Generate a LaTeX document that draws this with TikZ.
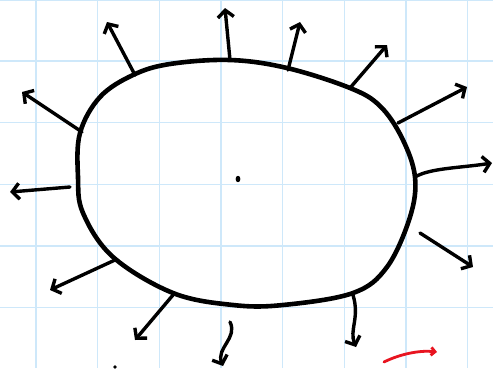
\documentclass[tikz,border=0pt]{standalone}
\usepackage{xcolor}
\usetikzlibrary{arrows.meta,calc}
\definecolor{gridblue}{RGB}{206,232,250}
\definecolor{inkred}{RGB}{232,20,32}
\tikzset{
    gridline/.style={draw=gridblue, line width=1.2pt},
    outline/.style={draw=black, line width=4.6pt, line join=round},
    ray/.style={-{Straight Barb[length=7pt,width=16pt]}, line width=3.4pt, line cap=round, draw=black},
    redmark/.style={-{Straight Barb[length=4pt,width=8pt]}, line width=2.8pt, line cap=round, draw=inkred}
}
\begin{document}
\begin{tikzpicture}[x=1pt,y=-1pt]
\useasboundingbox (0,0) rectangle (493,368);
\fill[white] (0,0) rectangle (493,368);
% squared paper
\foreach \gx in {36,97.7,159.3,221,282.7,344.3,406,467.7}
    \draw[gridline] (\gx,0) -- (\gx,368);
\foreach \gy in {0.5,61,122.7,184.3,246,307.7}
    \draw[gridline] (0,\gy) -- (493,\gy);
% body
\draw[outline] plot[smooth cycle, tension=0.6] coordinates {
    (230,60) (170,64) (133,75) (100,97) (80,133) (78,177) (83,213)
    (113,257) (173,293) (233,305) (283,305) (353,293) (387,267)
    (410,217) (415,177) (402,138) (380,106) (350,88) (287,68)};
\fill (238,179) ellipse (2.4pt and 3.2pt);
\fill (115,367) circle (1.8pt);
% start points on the body and free ends
\coordinate (s1) at (82,132);   \coordinate (e1) at (22,92);
\coordinate (s2) at (70,187);   \coordinate (e2) at (10,192);
\coordinate (s3) at (115,260);  \coordinate (e3) at (50,290);
\coordinate (s4) at (173,295);  \coordinate (e4) at (135,340);
\coordinate (s5) at (230,322);  \coordinate (e5) at (223,366);
\coordinate (s6) at (353,295);  \coordinate (e6) at (356,347);
\coordinate (s7) at (420,233);  \coordinate (e7) at (473,267);
\coordinate (s8) at (415,177);  \coordinate (e8) at (492,163);
\coordinate (s9) at (398,123);  \coordinate (e9) at (467,87);
\coordinate (s10) at (350,88);  \coordinate (e10) at (387,45);
\coordinate (s11) at (288,70);  \coordinate (e11) at (300,22);
\coordinate (s12) at (230,60);  \coordinate (e12) at (225,8);
\coordinate (s13) at (135,75);  \coordinate (e13) at (107,22);
\foreach \i in {1,2,3,4,7,9,10,11,12,13}
    \draw[ray] (s\i) -- (e\i);
\draw[ray] (s5) .. controls (238,338) and (216,348) .. (e5);
\draw[ray] (s6) .. controls (360,318) and (349,330) .. (e6);
\draw[ray] (s8) .. controls (430,168) and (460,168) .. (e8);
% red stroke
\coordinate (r1) at (384,362);
\coordinate (r2) at (437,352);
\draw[redmark] (r1) .. controls (400,354) and (420,350) .. (r2);
\end{tikzpicture}
\end{document}
